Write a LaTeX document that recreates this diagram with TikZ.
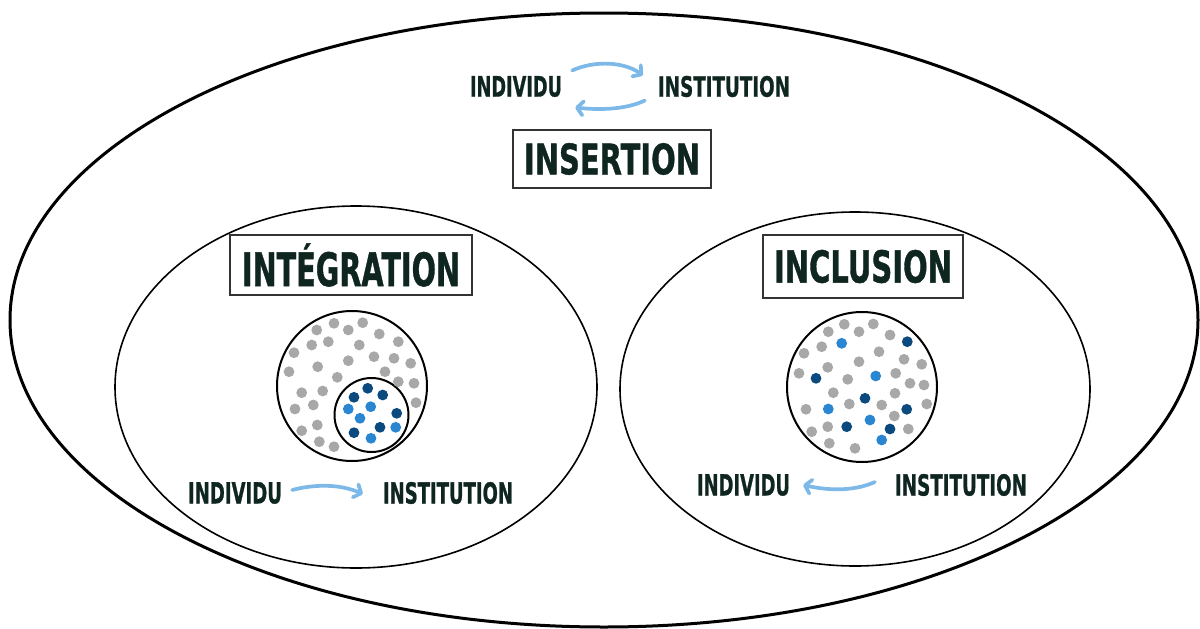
\documentclass[tikz,border=0pt]{standalone}
\usepackage{fontspec}
\usepackage{graphicx}
\setmainfont{DejaVu Sans}[BoldFeatures={FakeBold=1.2}]
\usetikzlibrary{arrows.meta}
\definecolor{ink}{HTML}{0F2520}
\definecolor{arrc}{HTML}{7DB9E8}
\definecolor{dotg}{HTML}{A8A8A8}
\definecolor{dotd}{HTML}{0B4A7E}
\definecolor{dotl}{HTML}{2A86D1}
\newsavebox\fitbox
\newcommand\fitw[3]{%
  \sbox\fitbox{\fontsize{#2}{#2}\selectfont\bfseries #3}%
  \pgfmathsetmacro\fitsc{#1/\the\wd\fitbox}%
  \scalebox{\fitsc}[1]{\usebox\fitbox}}
\tikzset{
  lbl/.style={inner sep=0pt, text=ink},
  titlebox/.style={draw=black!80, line width=1.5pt, inner sep=0pt, text=ink, fill=white},
  blarr/.style={draw=arrc, line width=3.7pt, line cap=round, line join=round,
    -{Straight Barb[length=6pt,width=14pt,line cap=round,line join=round]}},
  gdot/.style={fill=dotg},
  ddot/.style={fill=dotd},
  ldot/.style={fill=dotl},
}
\begin{document}
\begin{tikzpicture}[x=1pt,y=-1pt]
\useasboundingbox (0,0) rectangle (1200,629);
% ellipses
\draw[line width=3pt] (604,320) ellipse [x radius=594pt, y radius=307pt];
\draw[line width=1.6pt] (356,387) ellipse [x radius=241pt, y radius=181pt];
\draw[line width=1.6pt] (855,389) ellipse [x radius=235pt, y radius=177pt];

% titles
\node[titlebox, minimum width=198pt, minimum height=58pt] (tins) at (612,159) {\fitw{176}{42}{INSERTION}};
\node[titlebox, minimum width=242pt, minimum height=60pt] (tint) at (351,265) {\fitw{218}{46}{INTÉGRATION}};
\node[titlebox, minimum width=200pt, minimum height=63pt] (tinc) at (863,266.5) {\fitw{178}{44}{INCLUSION}};

% labels
\node[lbl] (ind1) at (516,86.5) {\fitw{92}{28}{INDIVIDU}};
\node[lbl] (ins1) at (724,86.5) {\fitw{132}{28}{INSTITUTION}};
\node[lbl] (ind2) at (235,493) {\fitw{94}{29}{INDIVIDU}};
\node[lbl] (ins2) at (448,493) {\fitw{130}{29}{INSTITUTION}};
\node[lbl] (ind3) at (743.5,485) {\fitw{93}{29}{INDIVIDU}};
\node[lbl] (ins3) at (961,485) {\fitw{132}{29}{INSTITUTION}};

% arrows
\coordinate (a1s) at ([shift={(10,-16)}]ind1.east);
\coordinate (a1e) at ([shift={(-15,-11)}]ins1.west);
\draw[blarr] (a1s) .. controls (595,60) and (625,62) .. (a1e);
\coordinate (a2s) at ([shift={(-13,14)}]ins1.west);
\coordinate (a2e) at ([shift={(13,21)}]ind1.east);
\draw[blarr] (a2s) .. controls (625,110) and (598,110) .. (a2e);
\coordinate (a3s) at ([shift={(10,-3)}]ind2.east);
\coordinate (a3e) at ([shift={(-20,1)}]ins2.west);
\draw[blarr] (a3s) .. controls (315,484) and (340,484) .. (a3e);
\coordinate (a4s) at ([shift={(-20,-3)}]ins3.west);
\coordinate (a4e) at ([shift={(13,0)}]ind3.east);
\draw[blarr] (a4s) .. controls (855,491) and (830,491) .. (a4e);

% left circles
\draw[line width=2pt] (352,386) circle (75pt);
\draw[line width=2pt] (371.5,415) circle (37pt);
\foreach \x/\y in {316.7/330, 334/323.3, 348.3/330, 362.7/322.7, 379.3/334, 311.7/345, 328.3/341.7, 359.3/345, 398.3/341.7, 294/352.7, 348.3/360.7, 374/356.7, 394/358.3, 410.7/363.3, 289/371.7, 317.7/366.7, 337.3/377.3, 385/371.7, 398.3/381.7, 414/383.3, 301.7/392.7, 322.7/391, 416/402.7, 295/409, 313.3/405, 301.7/430.7, 317.3/425, 319.3/441.7, 334/446.7}
  \fill[gdot] (\x,\y) circle (5.4pt);
\foreach \x/\y in {354/397.3, 367.7/388.3, 382.7/395, 396.7/413.3, 354/432.7, 380/427.3}
  \fill[ddot] (\x,\y) circle (5.4pt);
\foreach \x/\y in {348.3/409, 370.7/406.7, 360/418.3, 395.7/427.3, 371/438.3}
  \fill[ldot] (\x,\y) circle (5.4pt);

% right circle
\draw[line width=2pt] (862,387) circle (75pt);
\foreach \x/\y in {828.3/331.7, 844.3/324.3, 859/331.7, 873.3/324, 890/335, 821.7/346.7, 804/353.3, 879/351.7, 859/361.7, 904/359.3, 921.7/364.3, 799/373.3, 827.7/367.3, 847.7/379.3, 895.7/373.3, 910/383.3, 924/385, 833.3/392.7, 895/393.3, 849.3/404, 881.7/405, 926.7/404, 806/409.3, 894.3/416, 827.7/426.7, 811.7/431.7, 908.3/429, 829.3/443.3, 855/448.3}
  \fill[gdot] (\x,\y) circle (5.4pt);
\foreach \x/\y in {907.3/341.7, 816/378.3, 865/398.3, 906.7/409.3, 846.7/426.7, 890/429}
  \fill[ddot] (\x,\y) circle (5.4pt);
\foreach \x/\y in {841.7/343.3, 875.7/376, 828.3/409, 870/420, 881.7/440}
  \fill[ldot] (\x,\y) circle (5.4pt);
\end{tikzpicture}
\end{document}
